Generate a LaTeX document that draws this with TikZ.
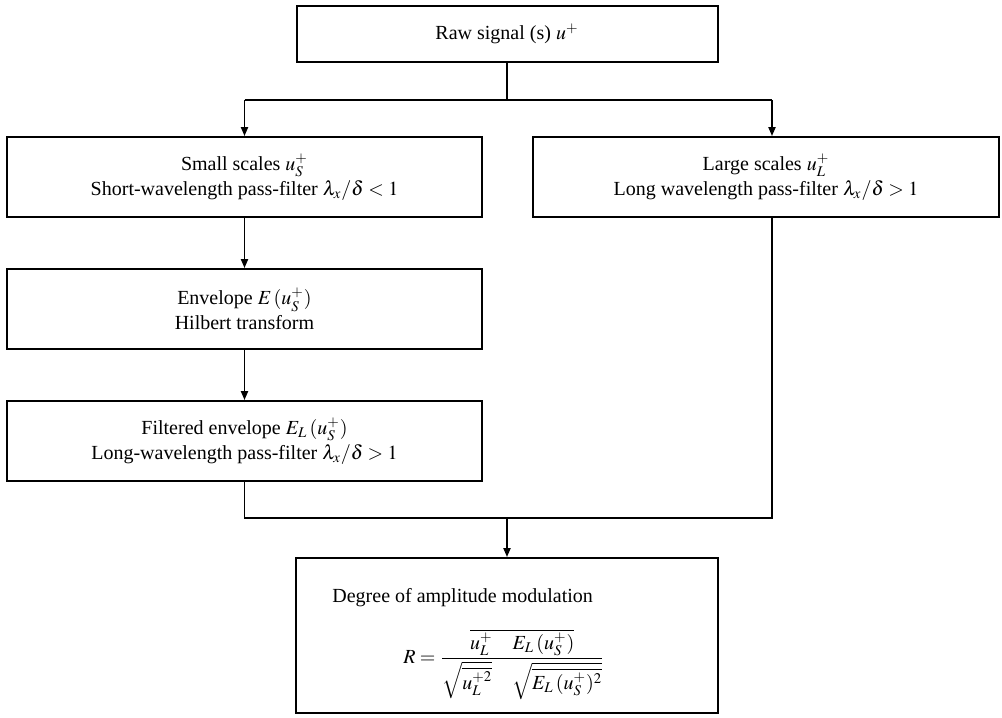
\documentclass[tikz,border=0pt]{standalone}
\usepackage{mathptmx}
\usepackage{fontspec}
\setmainfont{Liberation Serif}
\usetikzlibrary{arrows.meta}

\begin{document}
\begin{tikzpicture}[x=0.5pt,y=-0.5pt,
		every node/.style={align=center,font=\rmfamily\fontsize{10}{12.5}\selectfont},
		box/.style={draw,line width=1pt,inner sep=0pt},
		link/.style={draw,line width=0.8pt},
		arr/.style={link,-{Triangle[length=4.5pt,width=3.6pt]}}]
		\useasboundingbox (0,0) rectangle (1002,718);
		\node[box,minimum width=210.5pt,minimum height=28pt] (raw) at (507,34) {Raw signal (s) $u^+$};
		\node[box,minimum width=237.5pt,minimum height=40pt] (small) at (244.5,177)
			{Small scales $u_S^+$\\Short-wavelength pass-filter $\lambda_x/\delta < 1$};
		\node[box,minimum width=233pt,minimum height=40pt] (large) at (766,177)
			{Large scales $u_L^+$\\Long wavelength pass-filter $\lambda_x/\delta > 1$};
		\node[box,minimum width=237.5pt,minimum height=40pt] (env) at (244.5,309)
			{Envelope $E\,(u_S^+)$\\Hilbert transform};
		\node[box,minimum width=237.5pt,minimum height=40pt] (filt) at (244.5,441)
			{Filtered envelope $E_L\,(u_S^+)$\\Long-wavelength pass-filter $\lambda_x/\delta > 1$};
		\node[box,minimum width=211pt,minimum height=77.5pt] (res) at (507,635.5) {};
		\node[anchor=base west,inner sep=0pt] (restitle) at (332,602) {Degree of amplitude modulation};
		\node (resform) at (504,664)
			{$\displaystyle R=\frac{\overline{u_L^+\quad E_L\,(u_S^+)}}{\sqrt{\overline{u_L^{+2}}}\quad\sqrt{\overline{E_L\,(u_S^+)^2}}}$};
		
		\coordinate (split) at (507,100);
		\coordinate (sl) at (244.5,100);
		\coordinate (sr) at (772,100);
		\coordinate (join) at (507,518);
		
		\draw[link] (raw) -- (split);
		\draw[link] (sl) -- (sr);
		\draw[arr] (sl) -- (small);
		\draw[arr] (sr) -- (sr |- large.north);
		\draw[arr] (small) -- (env);
		\draw[arr] (env) -- (filt);
		\draw[link] (filt) |- (join);
		\draw[link] (sr |- large.south) |- (join);
		\draw[arr] (join) -- (res);
	\end{tikzpicture}
\end{document}
